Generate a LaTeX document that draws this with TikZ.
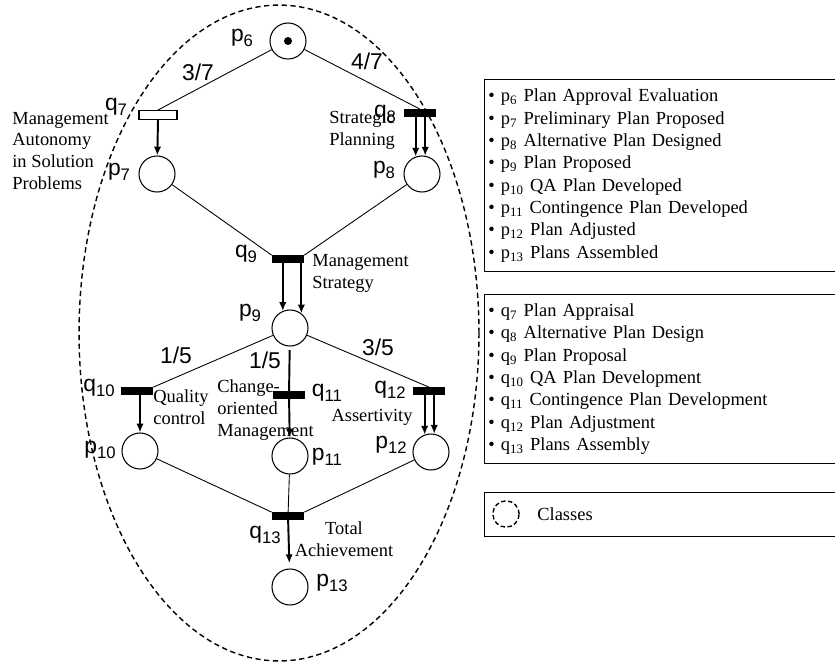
\documentclass[tikz,border=0pt]{standalone}
\usepackage{fontspec}
\setmainfont{Liberation Serif}
\setsansfont{Liberation Sans}
\usetikzlibrary{arrows.meta}
\newcommand{\pn}[2]{#1\raisebox{-3pt}{\fontsize{9.5}{9.5}\selectfont #2}}
\begin{document}
\begin{tikzpicture}[x=0.02cm,y=-0.02cm,
  place/.style={circle,draw,line width=0.6pt,fill=white,inner sep=0pt,minimum size=20.5pt},
  bar/.style={rectangle,fill=black,inner sep=0pt,minimum width=18.2pt,minimum height=4pt},
  wbar/.style={rectangle,draw,fill=white,line width=0.6pt,inner sep=0pt,minimum width=21.6pt,minimum height=5.1pt},
  lab/.style={inner sep=0pt,font=\sffamily\fontsize{13}{13}\selectfont},
  txt/.style={inner sep=0pt,align=left,anchor=west,font=\fontsize{10.5}{12.5}\selectfont},
  link/.style={line width=0.5pt},
  arr/.style={line width=1.1pt,-{Latex[length=5pt,width=4.2pt]}},
  legbox/.style={draw,line width=0.7pt,anchor=north west,inner xsep=2pt,inner ysep=0pt,
    minimum width=200.3pt,text width=196pt,align=left,font=\fontsize{10.5}{12.7}\selectfont}]
\useasboundingbox (0,0) rectangle (835,663);
% class
\draw[line width=0.8pt,dash pattern=on 3pt off 2pt] (279,333) ellipse [x radius=4cm,y radius=6.56cm];
% places
\node[place] (p6) at (288,41) {};
\fill (p6) circle (0.08cm);
\node[place] (p7) at (157,174) {};
\node[place] (p8) at (422,174) {};
\node[place] (p9) at (290,328) {};
\node[place] (p10) at (140,451) {};
\node[place] (p11) at (290,456) {};
\node[place] (p12) at (431,452) {};
\node[place] (p13) at (290,587) {};
% transitions
\node[wbar] (q7) at (158,115) {};
\node[bar] (q8) at (420,113) {};
\node[bar] (q9) at (288,259) {};
\node[bar] (q10) at (137,391) {};
\node[bar] (q11) at (289,395) {};
\node[bar] (q12) at (429,391) {};
\node[bar] (q13) at (288,516) {};
% arcs
\draw[link] (p6) -- (q7.north);
\draw[link] (p6) -- (q8.north);
\draw[arr] (q7.south) -- (p7);
\draw[arr] (q8.south -| p8.110) -- (p8.110);
\draw[arr] (q8.south -| p8.80) -- (p8.80);
\draw[link] (p7) -- (q9.north west);
\draw[link] (p8) -- (q9.north east);
\draw[arr] (q9.south -| p9.113) -- (p9.113);
\draw[arr] (q9.south -| p9.52) -- (p9.52);
\draw[link] (p9) -- (q10.north east);
\draw[link] (p9) -- (q12.north);
\draw[line width=1.1pt,shorten <=2pt] (p9) -- (q11);
\draw[arr] (q11) -- (p11);
\draw[arr] (q10.south -| p10.north) -- (p10.north);
\draw[arr] (q12.south -| p12.110) -- (p12.110);
\draw[arr] (q12.south -| p12.80) -- (p12.80);
\draw[link] (p10) -- (q13.north west);
\draw[link] (p11) -- (q13);
\draw[link] (p12) -- (q13.north east);
\draw[arr,shorten >=3pt] (q13) -- (p13);
% labels
\node[lab] (lp6) at (242,38) {\pn{p}{6}};
\node[lab] (lp7) at (119,172) {\pn{p}{7}};
\node[lab] (lp8) at (384,170) {\pn{p}{8}};
\node[lab] (lp9) at (250,313) {\pn{p}{9}};
\node[lab] (lp10) at (100,450) {\pn{p}{10}};
\node[lab] (lp11) at (327,457) {\pn{p}{11}};
\node[lab] (lp12) at (391,445) {\pn{p}{12}};
\node[lab] (lp13) at (332,583) {\pn{p}{13}};
\node[lab] (lq7) at (116,107) {\pn{q}{7}};
\node[lab] (lq8) at (385,114) {\pn{q}{8}};
\node[lab] (lq9) at (246,254) {\pn{q}{9}};
\node[lab] (lq10) at (99,388) {\pn{q}{10}};
\node[lab] (lq11) at (327,393) {\pn{q}{11}};
\node[lab] (lq12) at (390,390) {\pn{q}{12}};
\node[lab] (lq13) at (265,535) {\pn{q}{13}};
\node[lab] (w37) at (198,72) {3/7};
\node[lab] (w47) at (367,61) {4/7};
\node[lab] (w15a) at (176,355) {1/5};
\node[lab] (w15b) at (265,360) {1/5};
\node[lab] (w35) at (378,347) {3/5};
% roles
\node[txt] (tq7) at (12,151) {Management\\Autonomy\\in Solution\\Problems};
\node[txt] (tq8) at (329,130) {Strategic\\Planning};
\node[txt] (tq9) at (312,273) {Management\\Strategy};
\node[txt] (tq10) at (153,407) {Quality\\control};
\node[txt] (tq11) at (217,410) {Change-\\oriented\\Management};
\node[txt,anchor=center] (tq12) at (372,417) {Assertivity};
\node[txt,anchor=center,align=center] (tq13) at (344,539) {Total\\Achievement};
% legend
\node[legbox,minimum height=109.3pt] (leg1) at (484,79) {%
\textbullet\ p\textsubscript{6} Plan Approval Evaluation\\
\textbullet\ p\textsubscript{7} Preliminary Plan Proposed\\
\textbullet\ p\textsubscript{8} Alternative Plan Designed\\
\textbullet\ p\textsubscript{9} Plan Proposed\\
\textbullet\ p\textsubscript{10} QA Plan Developed\\
\textbullet\ p\textsubscript{11} Contingence Plan Developed\\
\textbullet\ p\textsubscript{12} Plan Adjusted\\
\textbullet\ p\textsubscript{13} Plans Assembled};
\node[legbox,minimum height=96.2pt] (leg2) at (484,294) {%
\textbullet\ q\textsubscript{7} Plan Appraisal\\
\textbullet\ q\textsubscript{8} Alternative Plan Design\\
\textbullet\ q\textsubscript{9} Plan Proposal\\
\textbullet\ q\textsubscript{10} QA Plan Development\\
\textbullet\ q\textsubscript{11} Contingence Plan Development\\
\textbullet\ q\textsubscript{12} Plan Adjustment\\
\textbullet\ q\textsubscript{13} Plans Assembly};
\node[legbox,minimum height=25pt] (leg3) at (484,492) {};
\node[circle,draw,line width=0.8pt,dash pattern=on 2.5pt off 1.5pt,minimum size=15pt,inner sep=0pt] (cls) at (506,514) {};
\node[txt] (tcls) at (537,514) {Classes};
\end{tikzpicture}
\end{document}
